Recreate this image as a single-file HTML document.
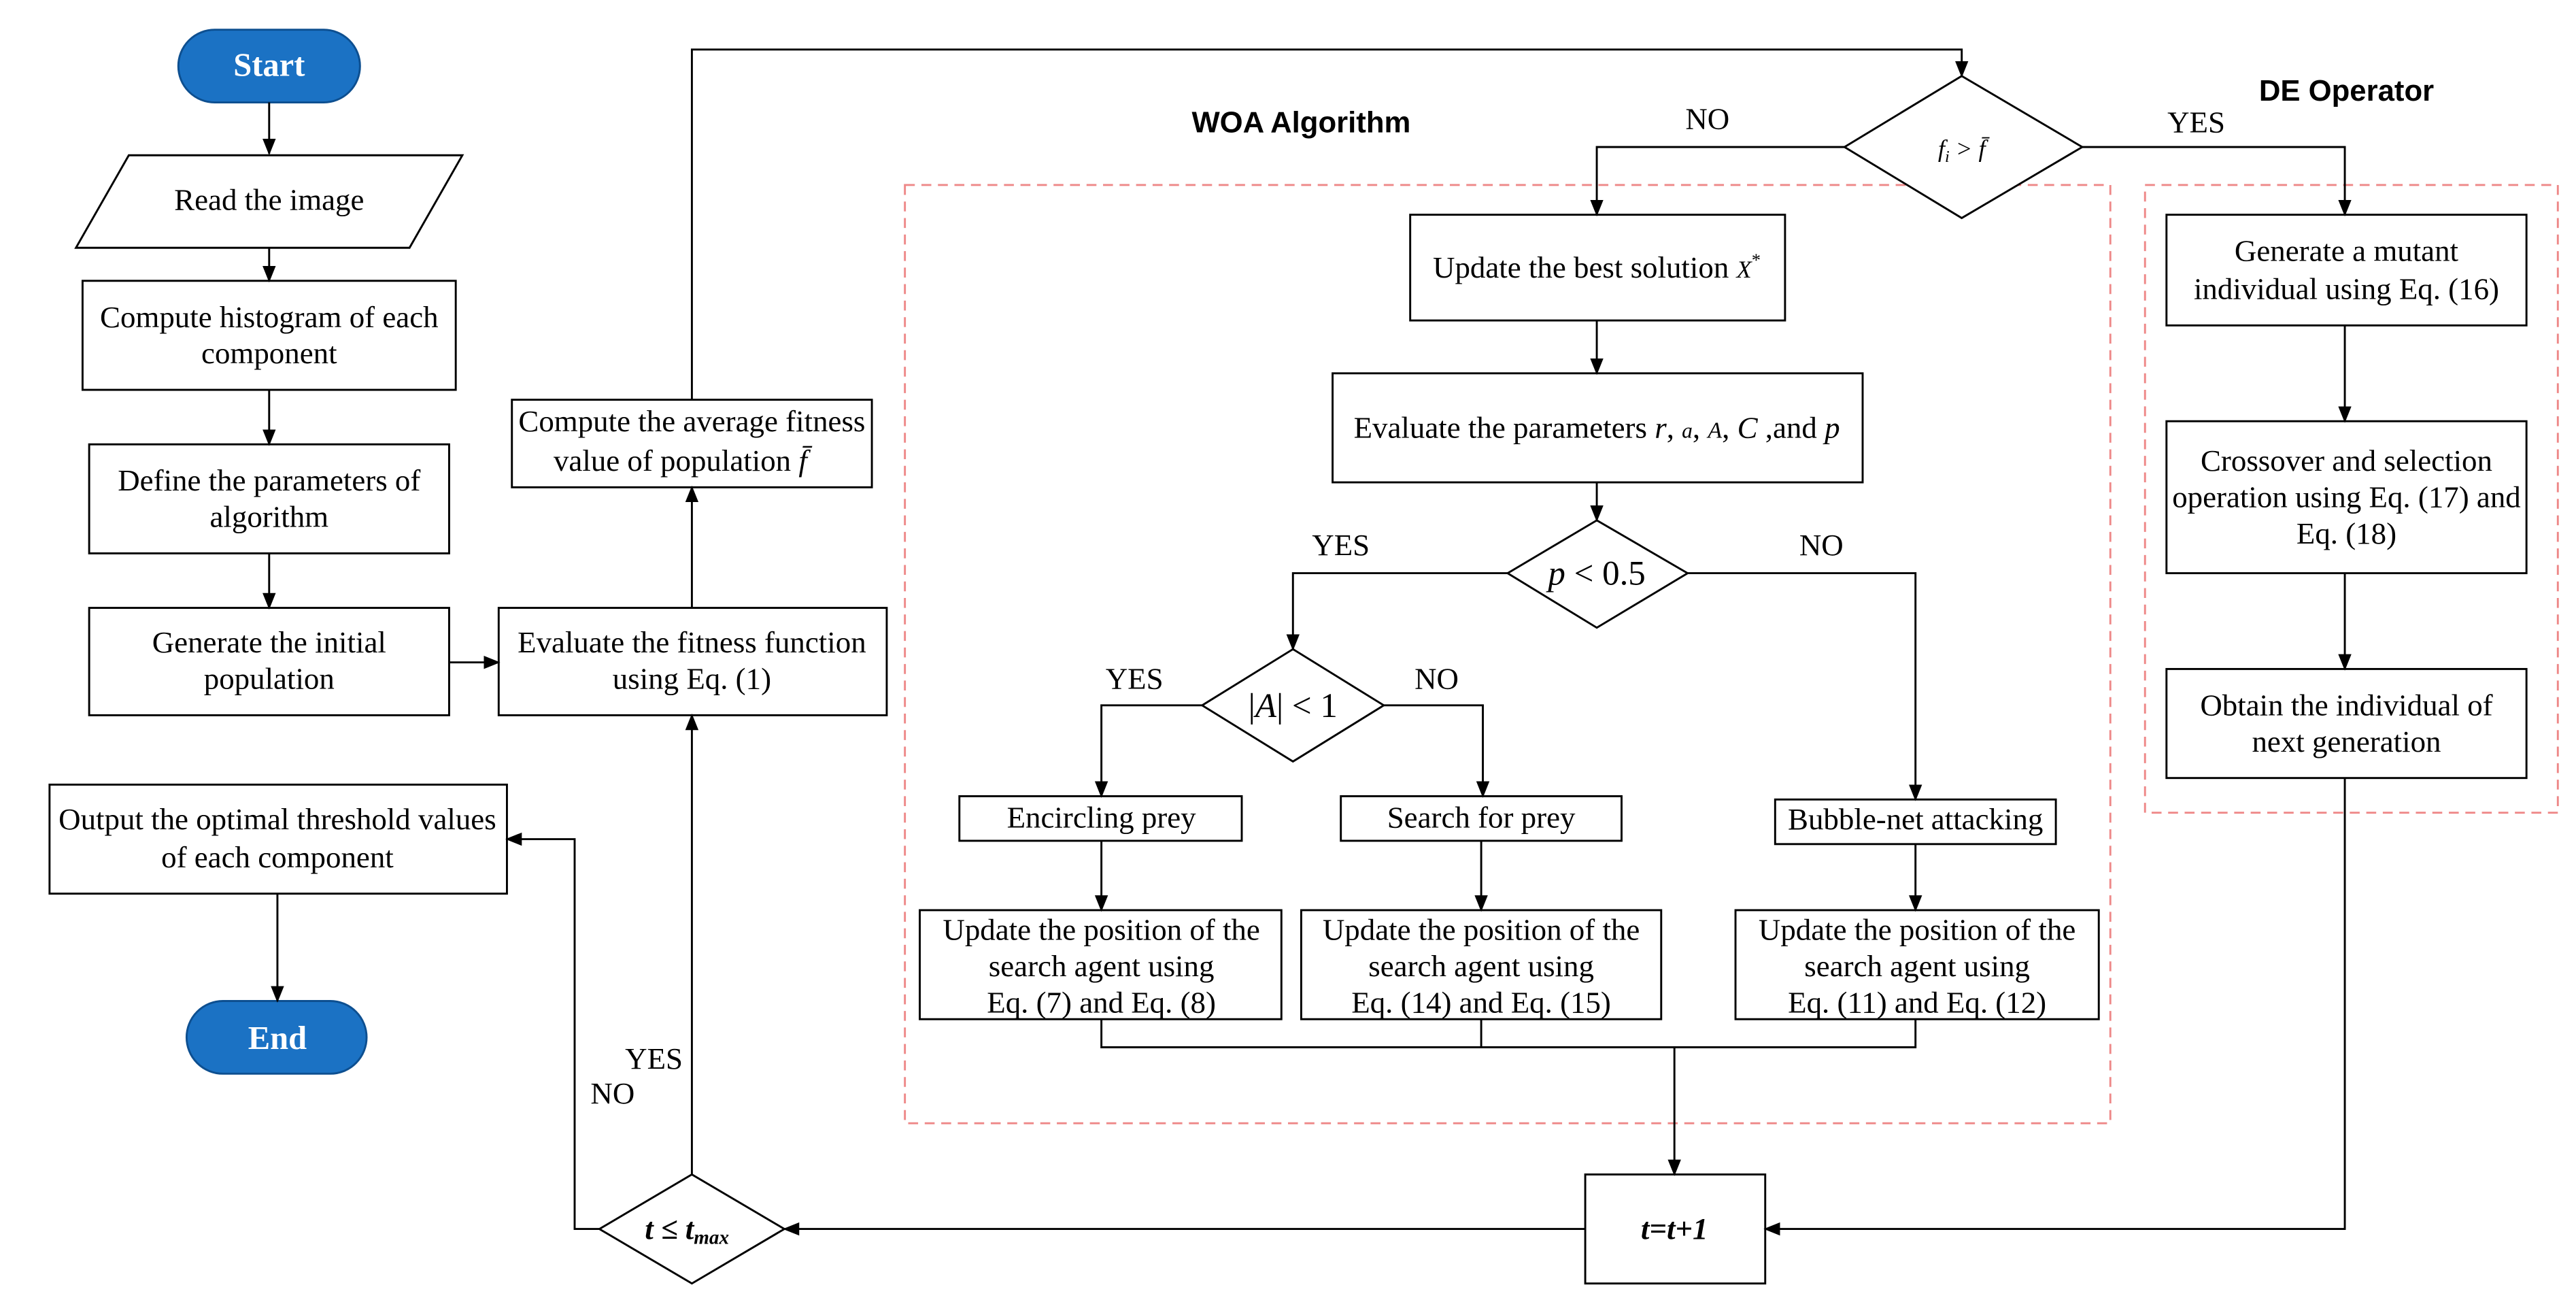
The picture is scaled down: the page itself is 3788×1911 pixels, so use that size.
<!DOCTYPE html>
<html><head><meta charset="utf-8"><style>
html,body{margin:0;padding:0;background:#fff;}
svg{display:block;}
text{font-family:"Liberation Serif",serif;font-size:18.5px;fill:#000;}
.b{font-family:"Liberation Sans",sans-serif;font-weight:bold;}
</style></head><body>
<svg width="3788" height="1911" viewBox="0 0 1560 787" xmlns="http://www.w3.org/2000/svg">
<defs><marker id="a" markerWidth="10" markerHeight="10" refX="9" refY="5" orient="auto" markerUnits="userSpaceOnUse"><path d="M0,1 L10,5 L0,9 z" fill="#000"/></marker></defs>
<g fill="none" stroke="#ee8888" stroke-width="1.2" stroke-dasharray="6,4">
<rect x="548" y="112" width="730" height="568"/>
<rect x="1299" y="112" width="250" height="380"/>
</g>
<g fill="#fff" stroke="#000" stroke-width="1.2">
<rect x="108" y="18" width="110" height="44" rx="22" fill="#1b72c4" stroke="#0d4f90"/>
<rect x="113" y="606" width="109" height="44" rx="22" fill="#1b72c4" stroke="#0d4f90"/>
<polygon points="78,94 280,94 248,150 46,150"/>
<rect x="50" y="170" width="226" height="66"/>
<rect x="54" y="269" width="218" height="66"/>
<rect x="54" y="368" width="218" height="65"/>
<rect x="302" y="368" width="235" height="65"/>
<rect x="310" y="242" width="218" height="53"/>
<rect x="30" y="475" width="277" height="66"/>
<polygon points="1188,46 1261,89 1188,132 1117,89"/>
<rect x="854" y="130" width="227" height="64"/>
<rect x="807" y="226" width="321" height="66"/>
<polygon points="967,315 1022,347 967,380 913,347"/>
<polygon points="783,393 838,427 783,461 728,427"/>
<rect x="581" y="482" width="171" height="27"/>
<rect x="812" y="482" width="170" height="27"/>
<rect x="1075" y="484" width="170" height="27"/>
<rect x="557" y="551" width="219" height="66"/>
<rect x="788" y="551" width="218" height="66"/>
<rect x="1051" y="551" width="220" height="66"/>
<rect x="960" y="711" width="109" height="66"/>
<rect x="1312" y="130" width="218" height="67"/>
<rect x="1312" y="255" width="218" height="92"/>
<rect x="1312" y="405" width="218" height="66"/>
<polygon points="419,711 475,744 419,777 363,744"/>
</g>
<g fill="none" stroke="#000" stroke-width="1.2" marker-end="url(#a)">
<path d="M163,62 V93"/><path d="M163,150 V170"/><path d="M163,236 V269"/><path d="M163,335 V368"/>
<path d="M272,401 H302"/><path d="M419,368 V295"/>
<path d="M419,242 V30 H1188 V46"/>
<path d="M1117,89 H967 V130"/><path d="M1261,89 H1420 V130"/>
<path d="M967,194 V226"/><path d="M967,292 V315"/>
<path d="M913,347 H783 V393"/><path d="M1022,347 H1160 V484"/>
<path d="M728,427 H667 V482"/><path d="M838,427 H898 V482"/>
<path d="M667,509 V551"/><path d="M897,509 V551"/><path d="M1160,511 V551"/>
<path d="M1014,634 V711"/>
<path d="M1420,197 V255"/><path d="M1420,347 V405"/>
<path d="M1420,471 V744 H1069"/><path d="M960,744 H475"/>
<path d="M419,711 V433"/><path d="M363,744 H348 V508 H307"/>
<path d="M168,541 V606"/>
</g>
<path d="M667,617 V634 H1160 V617 M897,617 V634" fill="none" stroke="#000" stroke-width="1.2"/>
<g text-anchor="middle">
<text x="163" y="46" class="b" style="fill:#fff;font-family:'Liberation Serif',serif;font-size:20px">Start</text>
<text x="168" y="635" class="b" style="fill:#fff;font-family:'Liberation Serif',serif;font-size:20px">End</text>
<text x="163" y="127">Read the image</text>
<text x="163" y="198">Compute histogram of each</text><text x="163" y="220">component</text>
<text x="163" y="297">Define the parameters of</text><text x="163" y="319">algorithm</text>
<text x="163" y="395">Generate the initial</text><text x="163" y="417">population</text>
<text x="419" y="395">Evaluate the fitness function</text><text x="419" y="417">using Eq. (1)</text>
<text x="419" y="261">Compute the average fitness</text><text x="412" y="285">value of population <tspan font-style="italic">f̄</tspan></text>
<text x="168" y="502">Output the optimal threshold values</text><text x="168" y="525">of each component</text>
<text x="788" y="80" class="b" style="font-size:18px">WOA Algorithm</text>
<text x="1421" y="61" class="b" style="font-size:18px">DE Operator</text>
<text x="1034" y="78">NO</text><text x="1330" y="80">YES</text>
<text x="1188" y="95" font-style="italic" style="font-size:15px">f<tspan font-size="10" dy="3">i</tspan><tspan dy="-3"> &gt; f̄</tspan></text>
<text x="967" y="168">Update the best solution  <tspan font-style="italic" font-size="15">X</tspan><tspan font-size="11" dy="-7">*</tspan></text>
<text x="967" y="265">Evaluate the parameters <tspan font-style="italic">r</tspan>, <tspan font-style="italic" font-size="13">a</tspan>, <tspan font-style="italic" font-size="14">A</tspan>, <tspan font-style="italic">C</tspan> ,and <tspan font-style="italic">p</tspan></text>
<text x="967" y="354" style="font-size:21px"><tspan font-style="italic">p</tspan> &lt; 0.5</text>
<text x="812" y="336">YES</text><text x="1103" y="336">NO</text>
<text x="783" y="434" style="font-size:21px">|<tspan font-style="italic">A</tspan>| &lt; 1</text>
<text x="687" y="417">YES</text><text x="870" y="417">NO</text>
<text x="667" y="501">Encircling prey</text>
<text x="897" y="501">Search for prey</text>
<text x="1160" y="502">Bubble-net attacking</text>
<text x="667" y="569">Update the position of the</text><text x="667" y="591">search agent using</text><text x="667" y="613">Eq. (7) and Eq. (8)</text>
<text x="897" y="569">Update the position of the</text><text x="897" y="591">search agent using</text><text x="897" y="613">Eq. (14) and Eq. (15)</text>
<text x="1161" y="569">Update the position of the</text><text x="1161" y="591">search agent using</text><text x="1161" y="613">Eq. (11) and  Eq. (12)</text>
<text x="1014" y="750" font-style="italic" font-weight="bold">t=t+1</text>
<text x="1421" y="158">Generate a mutant</text><text x="1421" y="181">individual using Eq. (16)</text>
<text x="1421" y="285">Crossover and selection</text><text x="1421" y="307">operation using Eq. (17) and</text><text x="1421" y="329">Eq. (18)</text>
<text x="1421" y="433">Obtain the individual of</text><text x="1421" y="455">next generation</text>
<text x="416" y="750" font-style="italic" font-weight="bold">t ≤ t<tspan font-size="12" dy="3">max</tspan></text>
<text x="396" y="647">YES</text><text x="371" y="668">NO</text>
</g>
</svg>
</body></html>
